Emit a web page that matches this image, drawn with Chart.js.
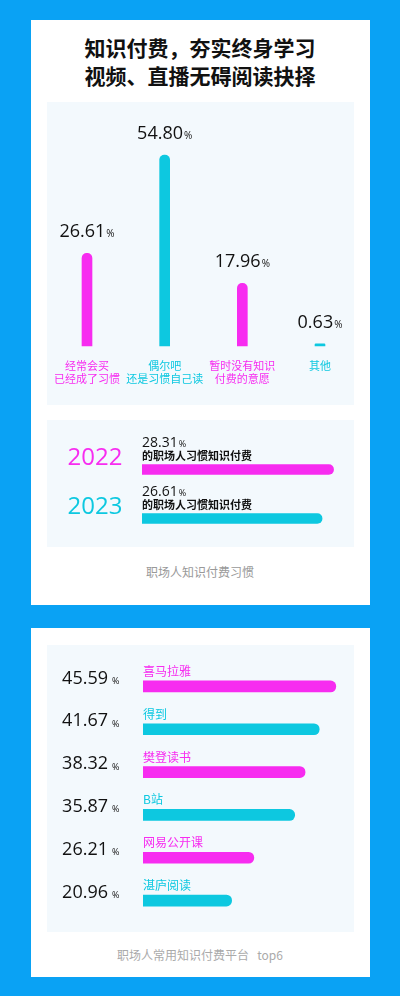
<!DOCTYPE html>
<html><head><meta charset="utf-8">
<script src="https://cdn.jsdelivr.net/npm/chart.js@4/dist/chart.umd.min.js"></script>
<style>
body{margin:0;width:400px;height:996px;background:#0aa2f4;position:relative;overflow:hidden;font-family:"Noto Sans CJK SC",sans-serif}
.card{position:absolute;left:31px;width:339px;background:#fff}
.panel{position:absolute;left:47px;width:307px;background:#f3f9fd}
.t{position:absolute;width:400px;text-align:center;left:0}
canvas{position:absolute}
</style></head><body>
<div class="card" style="top:20px;height:585px"></div>
<div class="card" style="top:628px;height:349px"></div>
<div class="panel" style="top:102px;height:303px"></div>
<div class="panel" style="top:420px;height:127px"></div>
<div class="panel" style="top:645px;height:287px"></div>
<div class="t" style="top:33px;font-size:21px;font-weight:bold;color:#111;line-height:28px">知识付费，夯实终身学习<br>视频、直播无碍阅读抉择</div>
<div class="t" style="top:563px;font-size:12px;color:#999">职场人知识付费习惯</div>
<div class="t" style="top:946px;font-size:12px;color:#aaa">职场人常用知识付费平台&nbsp;&nbsp;&nbsp;top6</div>
<div style="position:absolute;left:47px;top:102px;width:307px;height:303px"><canvas id="c1"></canvas></div>
<div style="position:absolute;left:47px;top:420px;width:307px;height:127px"><canvas id="c2"></canvas></div>
<div style="position:absolute;left:47px;top:645px;width:307px;height:287px"><canvas id="c3"></canvas></div>
<script>
const MAG='#f72cf0', CY='#0dc8e0';
const habitCats=[['经常会买','已经成了习惯'],['偶尔吧','还是习惯自己读'],['暂时没有知识','付费的意愿'],['其他']];
const habitVals=[26.61,54.80,17.96,0.63];
const habitColors=[MAG,CY,MAG,CY];
const years=['2022','2023'];
const yearVals=[28.31,26.61];
const yearColors=[MAG,CY];
const yearSub='的职场人习惯知识付费';
const platforms=['喜马拉雅','得到','樊登读书','B站','网易公开课','湛庐阅读'];
const platVals=[45.59,41.67,38.32,35.87,26.21,20.96];
const platColors=[MAG,CY,MAG,CY,MAG,CY];
const NUM='"Open Sans", sans-serif', CJK='"Noto Sans CJK SC", sans-serif';
function numPct(ctx,x,y,num,size,psize,align,gap){
  ctx.font=size+'px '+NUM; const w1=ctx.measureText(num).width;
  ctx.font=psize+'px '+NUM; const w2=ctx.measureText('%').width;
  let sx = align==='center'? x-(w1+gap+w2)/2 : x;
  ctx.textBaseline='alphabetic';ctx.textAlign='left';ctx.fillStyle='#111';
  ctx.font=size+'px '+NUM; ctx.fillText(num,sx,y);
  ctx.font=psize+'px '+NUM; ctx.fillText('%',sx+w1+gap,y);
}
Chart.defaults.animation=false;
new Chart(document.getElementById('c1'),{type:'bar',
 data:{labels:habitCats,datasets:[{data:habitVals,backgroundColor:habitColors,barThickness:10,clip:false,
  borderRadius:{topLeft:5,topRight:5},borderSkipped:'bottom'}]},
 options:{responsive:true,maintainAspectRatio:false,plugins:{legend:{display:false},tooltip:{enabled:false}},
  layout:{padding:{left:40,right:34,top:35,bottom:59}},
  scales:{x:{display:false,offset:false},y:{display:false,min:0,max:60}}},
 plugins:[{afterDatasetsDraw(ch){const ctx=ch.ctx;ch.getDatasetMeta(0).data.forEach((b,i)=>{
   numPct(ctx,b.x,b.y-16,habitVals[i].toFixed(2),18,10,'center',1);
   ctx.font='11px '+CJK;ctx.textAlign='center';ctx.fillStyle=habitColors[i];ctx.textBaseline='middle';
   habitCats[i].forEach((l,j)=>ctx.fillText(l,b.x,264+j*13));
 });}}]});
new Chart(document.getElementById('c2'),{type:'bar',
 data:{labels:years,datasets:[{data:yearVals,backgroundColor:yearColors,barThickness:10,borderRadius:{topRight:5,bottomRight:5},borderSkipped:'left'}]},
 options:{indexAxis:'y',responsive:true,maintainAspectRatio:false,plugins:{legend:{display:false},tooltip:{enabled:false}},
  layout:{padding:{left:95,right:9,top:25,bottom:4}},
  scales:{x:{display:false,min:0,max:30},y:{display:false}}},
 plugins:[{afterDatasetsDraw(ch){const ctx=ch.ctx;ch.getDatasetMeta(0).data.forEach((b,i)=>{
   numPct(ctx,b.base,b.y-23,yearVals[i].toFixed(2),14,9,'left',1);
   ctx.font='bold 11px '+CJK;ctx.fillStyle='#111';ctx.textAlign='left';ctx.textBaseline='middle';
   ctx.fillText(yearSub,b.base,b.y-14);
   ctx.font='24px '+NUM;ctx.fillStyle=yearColors[i];ctx.textAlign='center';
   ctx.fillText(years[i],48,b.y-11);
 });}}]});
new Chart(document.getElementById('c3'),{type:'bar',
 data:{labels:platforms,datasets:[{data:platVals,backgroundColor:platColors,barThickness:11,borderRadius:{topRight:6,bottomRight:6},borderSkipped:'left'}]},
 options:{indexAxis:'y',responsive:true,maintainAspectRatio:false,plugins:{legend:{display:false},tooltip:{enabled:false}},
  layout:{padding:{left:96,right:8,top:20,bottom:10}},
  scales:{x:{display:false,min:0,max:48},y:{display:false}}},
 plugins:[{afterDatasetsDraw(ch){const ctx=ch.ctx;ch.getDatasetMeta(0).data.forEach((b,i)=>{
   const n=platVals[i].toFixed(2);ctx.font='18px '+NUM;ctx.fillStyle='#111';ctx.textAlign='right';ctx.textBaseline='middle';
   ctx.fillText(n,61,b.y-8);ctx.font='9px '+NUM;ctx.textAlign='left';ctx.fillText('%',65,b.y-5);
   ctx.font='12px '+CJK;ctx.fillStyle=platColors[i];ctx.fillText(platforms[i],b.base,b.y-15);
 });}}]});
</script></body></html>
